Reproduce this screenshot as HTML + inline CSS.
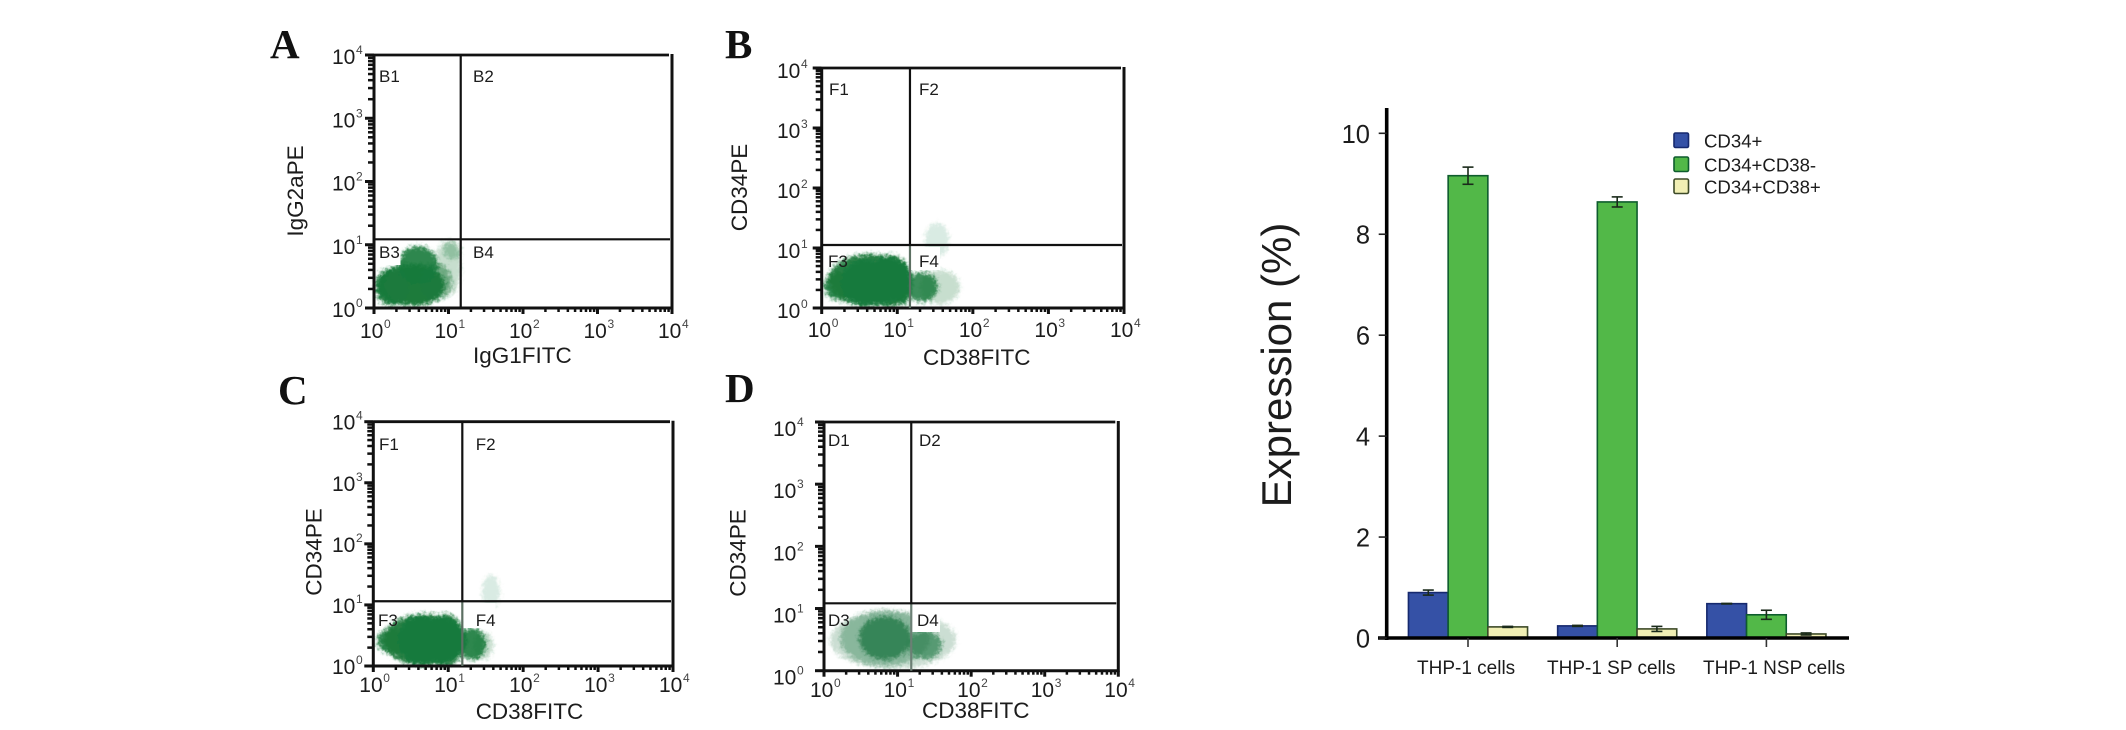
<!DOCTYPE html>
<html lang="en">
<head>
<meta charset="utf-8">
<title>Flow cytometry of CD34 and CD38 expression in THP-1 cells</title>
<style>
html,body{margin:0;padding:0;background:#fff;}
body{width:2126px;height:730px;overflow:hidden;}
svg{display:block;}
text{font-family:"Liberation Sans",Arial,sans-serif;fill:#1c1c1c;}
</style>
</head>
<body>
<svg id="figure" xmlns="http://www.w3.org/2000/svg" width="2126" height="730" viewBox="0 0 2126 730">
<defs>
<filter id="soft" x="-20%" y="-20%" width="140%" height="140%">
<feGaussianBlur in="SourceGraphic" stdDeviation="1.8" result="b"/>
<feTurbulence type="fractalNoise" baseFrequency="0.3" numOctaves="2" seed="4" result="n"/>
<feDisplacementMap in="b" in2="n" scale="7" xChannelSelector="R" yChannelSelector="G"/>
</filter>
</defs>
<rect width="2126" height="730" fill="#ffffff"/>
</svg>
<script>
// Bar chart data
const categories = ['THP-1 cells', 'THP-1 SP cells', 'THP-1 NSP cells'];
const seriesNames = ['CD34+', 'CD34+CD38-', 'CD34+CD38+'];
const cd34Values = [0.90, 0.24, 0.68];
const cd34Errors = [0.05, 0.01, 0.005];
const cd34Cd38NegValues = [9.16, 8.64, 0.46];
const cd34Cd38NegErrors = [0.17, 0.10, 0.09];
const cd34Cd38PosValues = [0.22, 0.18, 0.08];
const cd34Cd38PosErrors = [0.01, 0.05, 0.02];
const yTickValues = [0, 2, 4, 6, 8, 10];

// Flow cytometry data: density clouds in log10 units, one set per panel
const decades = [0, 1, 2, 3, 4];
const minorMultipliers = [2, 3, 4, 5, 6, 7, 8, 9];
const gateLogX = [1.164, 1.168, 1.188, 1.186];
const gateLogY = [1.086, 1.05, 1.06, 1.084];

const cloudAX = [0.99, 1.05, 0.83, 0.242, 0.483, 0.55, 0.59];
const cloudAY = [0.63, 0.91, 0.411, 0.332, 0.364, 0.364, 0.68];
const cloudARx = [0.175, 0.12, 0.215, 0.228, 0.456, 0.403, 0.268];
const cloudARy = [0.443, 0.142, 0.30, 0.30, 0.332, 0.332, 0.30];
const cloudAAlpha = [0.25, 0.3, 0.5, 0.95, 0.9, 0.95, 0.9];

const cloudBX = [1.565, 1.525, 0.269, 0.637, 0.573, 0.90, 1.075, 1.326];
const cloudBY = [0.35, 1.133, 0.367, 0.467, 0.417, 0.45, 0.417, 0.35];
const cloudBRx = [0.265, 0.16, 0.238, 0.555, 0.317, 0.29, 0.12, 0.21];
const cloudBRy = [0.283, 0.283, 0.25, 0.433, 0.40, 0.433, 0.367, 0.25];
const cloudBAlpha = [0.25, 0.15, 0.9, 0.95, 0.97, 0.97, 0.9, 0.85];

const cloudCX = [1.465, 1.571, 0.263, 0.69, 0.624, 0.957, 1.318];
const cloudCY = [0.33, 1.213, 0.41, 0.426, 0.426, 0.426, 0.36];
const cloudCRx = [0.134, 0.12, 0.214, 0.56, 0.294, 0.267, 0.187];
const cloudCRy = [0.23, 0.28, 0.213, 0.426, 0.41, 0.426, 0.262];
const cloudCAlpha = [0.25, 0.15, 0.9, 0.95, 0.97, 0.97, 0.9];

const cloudDX = [0.9375, 0.829, 0.829, 1.372];
const cloudDY = [0.494, 0.526, 0.526, 0.413];
const cloudDRx = [0.856, 0.611, 0.353, 0.231];
const cloudDRy = [0.466, 0.45, 0.354, 0.225];
const cloudDAlpha = [0.25, 0.4, 0.85, 0.7];

const svgNS = 'http://www.w3.org/2000/svg';
const root = document.getElementById('figure');

function make(parent, tag, attrs, text) {
  const node = document.createElementNS(svgNS, tag);
  for (const key in attrs) node.setAttribute(key, attrs[key]);
  if (text !== undefined) node.textContent = text;
  parent.appendChild(node);
  return node;
}

function drawPanel(p, index) {
  const xDec = (p.right - p.left) / 4;
  const yDec = (p.bottom - p.top) / 4;
  const xScale = function (v) { return p.left + v * xDec; };
  const yScale = function (v) { return p.bottom - v * yDec; };

  const group = make(root, 'g', {});
  
  

  const letter = make(group, 'text', { x: p.letterX, y: p.letterY, 'font-size': 41, 'font-weight': 'bold', style: 'font-family:"Liberation Serif",serif;fill:#111' }, p.letter);
  
  

  const cloud = make(group, 'g', { filter: 'url(#soft)' });
  
  
  p.cloudX.forEach(function (cx, i) {
    const blob = make(cloud, 'ellipse', {
      cx: xScale(cx), cy: yScale(p.cloudY[i]),
      rx: p.cloudRx[i] * xDec, ry: p.cloudRy[i] * yDec,
      fill: p.color, 'fill-opacity': p.cloudAlpha[i]
    });
    
    
  });

  p.knockouts.forEach(function (k) {
    const box = make(group, 'rect', { x: k[0], y: k[1], width: k[2], height: k[3], fill: '#fff' });
    
    
  });

  // Ticks
  decades.forEach(function (d) {
    const yMajor = make(group, 'line', { x1: p.left - 9, x2: p.left, y1: yScale(d), y2: yScale(d), stroke: '#111', 'stroke-width': 3 });
    
    
    const xMajor = make(group, 'line', { x1: xScale(d), x2: xScale(d), y1: p.bottom, y2: p.bottom + 6, stroke: '#111', 'stroke-width': 3 });
    
    

    const yLabel = make(group, 'text', { x: p.yLabelX, y: yScale(d) + p.yLabelDy, 'font-size': 21 }, '10');
    
    
    const ySup = make(group, 'text', { x: p.yLabelX + 24, y: yScale(d) + p.yLabelDy - 10, 'font-size': 12, style: 'fill:#444' }, String(d));
    
    

    const xLabel = make(group, 'text', { x: xScale(d) - 14, y: p.xLabelY, 'font-size': 21 }, '10');
    
    
    const xSup = make(group, 'text', { x: xScale(d) + 10, y: p.xLabelY - 10, 'font-size': 12, style: 'fill:#444' }, String(d));
    
    

    if (d < 4) {
      minorMultipliers.forEach(function (m) {
        const offset = d + Math.log10(m);
        const yMinor = make(group, 'line', { x1: p.left - 6, x2: p.left, y1: yScale(offset), y2: yScale(offset), stroke: '#111', 'stroke-width': 2.5 });
        
        
        const xMinor = make(group, 'line', { x1: xScale(offset), x2: xScale(offset), y1: p.bottom, y2: p.bottom + 4, stroke: '#111', 'stroke-width': 2.5 });
        
        
      });
    }
  });

  // Frame
  const frameLeft = make(group, 'line', { x1: p.left, x2: p.left, y1: p.top - 1, y2: p.bottom + 1, stroke: '#111', 'stroke-width': 3 });
  
  
  const frameBottom = make(group, 'line', { x1: p.left, x2: p.right + 1, y1: p.bottom, y2: p.bottom, stroke: '#111', 'stroke-width': 3 });
  
  
  const frameTop = make(group, 'line', { x1: p.left, x2: p.right - 3, y1: p.top, y2: p.top, stroke: '#111', 'stroke-width': 2.8 });
  
  
  const frameRight = make(group, 'line', { x1: p.right, x2: p.right, y1: p.top - 1, y2: p.bottom + 1, stroke: '#111', 'stroke-width': 3 });
  
  

  // Quadrant gates
  const gx = xScale(gateLogX[index]);
  const gy = yScale(gateLogY[index]);
  const gateV = make(group, 'line', { x1: gx, x2: gx, y1: p.top, y2: gy, stroke: '#111', 'stroke-width': 2.2 });
  
  
  const gateVLower = make(group, 'line', { x1: gx, x2: gx, y1: gy, y2: p.bottom, stroke: p.lowerGate, 'stroke-width': 2.2 });
  
  
  const gateH = make(group, 'line', { x1: p.left, x2: p.right - 2, y1: gy, y2: gy, stroke: '#111', 'stroke-width': 2.2 });
  
  

  // Quadrant labels
  p.quadrants.forEach(function (q) {
    const quad = make(group, 'text', { x: q[1], y: q[2], 'font-size': 17 }, q[0]);
    
    
  });

  // Axis titles
  const xTitle = make(group, 'text', { x: p.xTitleX, y: p.xTitleY, 'font-size': 22.5 }, p.xTitle);
  
  
  const yTitle = make(group, 'text', { transform: 'translate(' + p.yTitleX + ' ' + p.yTitleY + ') rotate(-90)', 'text-anchor': 'middle', 'font-size': 22.5 }, p.yTitle);
  
  
}

const panels = [
  { letter: 'A', letterX: 270, letterY: 58, left: 374, right: 672, top: 55, bottom: 308, color: '#1a7a3c', lowerGate: '#111',
    cloudX: cloudAX, cloudY: cloudAY, cloudRx: cloudARx, cloudRy: cloudARy, cloudAlpha: cloudAAlpha,
    knockouts: [[375.5, 241, 25, 24]], yLabelX: 332, yLabelDy: 9, xLabelY: 338,
    quadrants: [['B1', 379, 82], ['B2', 473, 82], ['B3', 379, 258], ['B4', 473, 258]],
    xTitle: 'IgG1FITC', xTitleX: 473, xTitleY: 363, yTitle: 'IgG2aPE', yTitleX: 303, yTitleY: 191 },
  { letter: 'B', letterX: 725, letterY: 58, left: 821.7, right: 1124, top: 68, bottom: 308, color: '#1a7a3c', lowerGate: '#5c6f62',
    cloudX: cloudBX, cloudY: cloudBY, cloudRx: cloudBRx, cloudRy: cloudBRy, cloudAlpha: cloudBAlpha,
    knockouts: [[911, 247, 29, 23]], yLabelX: 777, yLabelDy: 10, xLabelY: 337,
    quadrants: [['F1', 829, 95], ['F2', 919, 95], ['F3', 828, 267], ['F4', 919, 267]],
    xTitle: 'CD38FITC', xTitleX: 923, xTitleY: 365, yTitle: 'CD34PE', yTitleX: 747, yTitleY: 187.5 },
  { letter: 'C', letterX: 278, letterY: 404, left: 373.3, right: 673, top: 421.7, bottom: 666, color: '#1a7a3c', lowerGate: '#5c6f62',
    cloudX: cloudCX, cloudY: cloudCY, cloudRx: cloudCRx, cloudRy: cloudCRy, cloudAlpha: cloudCAlpha,
    knockouts: [[463.5, 603, 32, 25]], yLabelX: 332, yLabelDy: 8, xLabelY: 692,
    quadrants: [['F1', 379, 450], ['F2', 475.7, 450], ['F3', 378, 626], ['F4', 475.7, 626]],
    xTitle: 'CD38FITC', xTitleX: 475.7, xTitleY: 719, yTitle: 'CD34PE', yTitleX: 321.7, yTitleY: 552 },
  { letter: 'D', letterX: 725, letterY: 402, left: 824, right: 1118.3, top: 422, bottom: 670.7, color: '#2a7d4b', lowerGate: '#6b7f74',
    cloudX: cloudDX, cloudY: cloudDY, cloudRx: cloudDRx, cloudRy: cloudDRy, cloudAlpha: cloudDAlpha,
    knockouts: [[912, 610, 28, 22]], yLabelX: 773, yLabelDy: 14, xLabelY: 697,
    quadrants: [['D1', 828, 446], ['D2', 919, 446], ['D3', 828, 626], ['D4', 917, 626]],
    xTitle: 'CD38FITC', xTitleX: 922, xTitleY: 718, yTitle: 'CD34PE', yTitleX: 745.7, yTitleY: 553 }
];
panels.forEach(drawPanel);

// Bar chart
const chart = make(root, 'g', {});



const barBaseY = 638;
const barUnit = 50.47;
const barWidth = 39.7;
const groupStart = 1468;
const groupStep = 149.2;
const axisX = 1386.7;
function valueY(v) { return barBaseY - v * barUnit; }
function groupX(i) { return groupStart + groupStep * i; }

const seriesStyles = [
  { key: 'cd34', values: cd34Values, errors: cd34Errors, fill: '#3551a6', stroke: '#16296e' },
  { key: 'cd34-cd38-neg', values: cd34Cd38NegValues, errors: cd34Cd38NegErrors, fill: '#52b848', stroke: '#0e5c2e' },
  { key: 'cd34-cd38-pos', values: cd34Cd38PosValues, errors: cd34Cd38PosErrors, fill: '#f1efb4', stroke: '#3d4a28' }
];

seriesStyles.forEach(function (s, si) {
  s.values.forEach(function (v, i) {
    const left = groupX(i) + (si - 1.5) * barWidth;
    const bar = make(chart, 'rect', { x: left, y: valueY(v), width: barWidth, height: barBaseY - valueY(v), fill: s.fill, stroke: s.stroke, 'stroke-width': 1.6 });
    
    
    const cx = left + barWidth / 2;
    const top = valueY(v + s.errors[i]);
    const bottom = valueY(v - s.errors[i]);
    const stem = make(chart, 'line', { x1: cx, x2: cx, y1: top, y2: bottom, stroke: '#1a2a1a', 'stroke-width': 1.6 });
    
    
    const capTop = make(chart, 'line', { x1: cx - 5.5, x2: cx + 5.5, y1: top, y2: top, stroke: '#1a2a1a', 'stroke-width': 1.6 });
    
    
    const capBottom = make(chart, 'line', { x1: cx - 5.5, x2: cx + 5.5, y1: bottom, y2: bottom, stroke: '#1a2a1a', 'stroke-width': 1.6 });
    
    
  });
});

const yAxisLine = make(chart, 'line', { x1: axisX, x2: axisX, y1: 108, y2: barBaseY + 2, stroke: '#000', 'stroke-width': 3.6 });


const xAxisLine = make(chart, 'line', { x1: 1378, x2: 1849, y1: barBaseY, y2: barBaseY, stroke: '#000', 'stroke-width': 3.4 });



yTickValues.forEach(function (t) {
  const tick = make(chart, 'line', { x1: axisX - 8, x2: axisX, y1: valueY(t), y2: valueY(t), stroke: '#222', 'stroke-width': 1.6 });
  
  
  const label = make(chart, 'text', { x: 1370, y: valueY(t) + 9.5, 'text-anchor': 'end', 'font-size': 25.5 }, String(t));
  
  
});

const categoryLabelStart = [1417, 1547, 1703];
categories.forEach(function (c, i) {
  const tick = make(chart, 'line', { x1: groupX(i), x2: groupX(i), y1: barBaseY, y2: barBaseY + 9, stroke: '#333', 'stroke-width': 1.6 });
  
  
  const label = make(chart, 'text', { x: categoryLabelStart[i], y: 674, 'font-size': 19 }, c);
  
  
});

const chartTitle = make(chart, 'text', { transform: 'translate(1291 365) rotate(-90)', 'text-anchor': 'middle', 'font-size': 42 }, 'Expression (%)');



const legendSwatchY = [133, 157, 179];
seriesNames.forEach(function (name, i) {
  const swatch = make(chart, 'rect', { x: 1674, y: legendSwatchY[i], width: 14.5, height: 14.5, rx: 1.5, fill: seriesStyles[i].fill, stroke: seriesStyles[i].stroke, 'stroke-width': 1.6 });
  
  
  const entry = make(chart, 'text', { x: 1704, y: legendSwatchY[i] + 14.5, 'font-size': 18.6 }, name);
  
  
});
</script>
</body>
</html>
